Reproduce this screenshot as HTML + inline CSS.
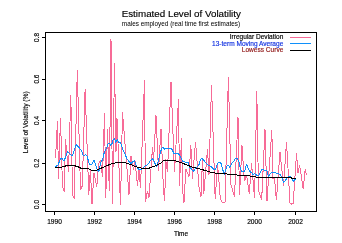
<!DOCTYPE html>
<html><head><meta charset="utf-8">
<style>
html,body{margin:0;padding:0;background:#fff;width:342px;height:243px;overflow:hidden}
svg{display:block;will-change:transform}
text{font-family:"Liberation Sans",sans-serif;fill:#000}
</style></head><body>
<svg width="342" height="243" viewBox="0 0 342 243">
<rect x="0" y="0" width="342" height="243" fill="#fff"/>
<text x="181.3" y="16.8" font-size="9.8" text-anchor="middle" stroke="#000" stroke-width="0.15">Estimated Level of Volatility</text>
<text x="181" y="25.5" font-size="6.4" text-anchor="middle">males employed (real time first estimates)</text>
<g fill="none" shape-rendering="crispEdges">
<path d="M55.5 158.5 57.5 121.0 58.5 178.5 60.5 118.0 62.5 186.6 64.2 192.0 65.5 139.0 68.5 172.0 70.8 95.4 72.5 195.0 74.2 198.8 77.3 70.0 80.5 189.6 82.3 186.0 85.1 89.2 88.8 194.5 90.4 169.5 92.0 203.8 94.0 173.0 96.8 186.5 98.5 164.0 100.5 160.6 102.5 177.0 104.5 113.0 105.8 197.6 107.5 129.5 109.3 190.8 111.0 39.1 112.5 203.8 114.5 63.0 116.0 151.6 117.0 118.5 120.5 205.0 122.5 112.2 129.0 194.5 131.0 156.5 133.5 170.0 135.0 160.8 137.5 185.9 139.0 168.8 140.5 187.7 144.5 80.3 145.5 201.5 147.5 191.0 149.0 197.5 152.5 147.2 153.5 162.0 156.0 115.4 158.5 170.7 161.0 129.0 163.5 191.0 164.8 200.7 165.5 158.8 167.5 172.0 171.0 82.1 174.5 172.4 178.5 98.9 179.5 185.7 181.5 138.4 182.6 190.0 184.0 202.5 185.8 169.0 189.0 176.8 190.8 145.4 192.5 178.6 195.5 141.9 199.2 189.0 201.0 196.5 202.5 158.0 203.8 193.5 207.5 149.5 209.0 175.0 211.5 84.7 215.2 199.0 217.6 165.0 220.2 197.0 221.6 202.0 225.0 202.5 228.4 76.8 231.0 185.0 234.5 196.5 238.0 117.0 239.5 195.4 242.0 145.4 244.4 181.3 246.5 175.0 249.3 193.7 251.5 163.0 254.6 198.2 256.8 90.9 258.5 191.0 261.7 199.4 265.0 129.5 267.0 201.1 271.8 130.4 273.0 179.0 274.5 178.0 276.4 200.0 280.0 151.8 283.5 186.0 286.5 142.2 290.0 203.0 291.5 204.0 293.2 203.5 296.5 153.3 298.0 172.6 299.6 165.0 303.2 189.0 305.2 169.6 306.6 175.0" stroke="#f76b97" stroke-width="1"/>
<path d="M55.0 167.0 56.6 166.0 58.0 164.8 58.8 163.0 59.7 160.8 60.6 159.0 61.9 158.2 63.2 160.0 64.1 160.8 65.0 158.6 65.8 156.9 67.3 151.6 68.8 152.8 70.7 154.6 71.9 155.9 73.1 154.0 74.4 150.3 76.2 144.5 77.5 146.0 79.9 148.5 81.8 151.6 83.0 155.0 84.0 155.7 85.5 154.3 86.5 155.2 87.5 157.0 88.0 159.5 88.8 162.1 89.7 164.3 91.0 165.2 92.3 163.9 93.2 161.3 94.1 160.0 95.0 162.6 95.8 165.6 96.7 168.3 98.0 170.5 98.9 171.8 99.4 168.3 100.2 164.8 101.1 161.3 102.4 160.4 103.3 156.9 103.7 154.3 105.2 150.8 106.7 147.8 108.2 143.9 109.5 143.4 110.7 145.4 112.1 143.4 113.2 139.5 114.5 138.8 115.7 141.9 117.6 140.1 118.8 142.5 120.4 142.5 121.6 145.0 122.3 148.0 123.5 151.1 125.3 155.0 127.0 158.7 129.4 162.2 131.1 163.4 132.9 161.6 134.6 161.0 136.4 165.7 137.2 167.4 139.0 169.5 140.3 169.1 142.1 169.1 143.0 168.7 144.0 167.1 145.3 165.8 147.5 164.9 148.8 163.2 150.6 160.1 152.3 158.8 153.6 160.1 155.0 163.6 156.3 166.2 157.2 165.4 158.5 160.5 159.8 155.3 160.9 150.8 161.8 148.1 163.1 147.3 164.4 149.0 165.7 148.1 167.0 149.0 168.3 148.1 170.1 148.6 171.4 148.1 172.7 150.8 174.0 153.4 177.5 153.4 178.9 154.3 180.2 156.0 181.5 158.7 182.8 161.3 185.4 162.2 188.2 162.5 189.5 167.4 190.8 168.2 192.1 170.4 193.5 171.3 194.8 169.5 196.1 167.8 197.4 166.5 198.7 165.6 199.6 162.5 200.9 159.0 202.2 158.6 203.5 159.9 204.9 161.6 206.6 163.4 208.4 165.2 210.6 166.5 212.3 167.4 213.8 169.6 215.5 169.2 216.8 165.6 218.1 162.6 219.9 162.1 221.2 163.9 222.1 167.0 223.0 170.5 224.3 174.4 225.6 170.0 226.9 166.1 228.2 165.2 229.5 167.0 230.9 165.6 232.2 163.0 233.9 161.3 235.7 158.2 237.4 158.6 238.8 161.3 239.6 165.6 240.9 170.0 242.0 171.8 244.6 171.4 245.5 168.8 246.4 164.4 247.3 165.7 248.1 167.9 249.0 170.1 250.3 171.8 251.6 172.7 253.0 174.5 254.3 173.6 256.0 174.5 257.4 175.8 258.7 175.8 260.0 173.2 261.3 170.1 263.1 169.2 264.8 170.5 267.0 171.0 267.9 174.5 268.8 176.2 270.1 173.6 271.8 172.8 273.5 172.3 275.3 172.8 277.0 173.2 278.8 173.6 280.5 175.0 281.8 177.2 282.7 180.2 283.6 182.0 284.9 181.1 286.2 179.4 287.5 177.6 288.9 176.3 290.6 176.3 291.5 178.5 292.8 180.2 293.7 181.1 294.6 179.8 296.3 178.9" stroke="#1090fa" stroke-width="1"/>
<path d="M55.0 167.5 61.9 167.5 62.3 166.5 65.4 166.5 65.8 165.5 75.0 165.5 75.5 166.5 78.1 166.5 78.6 167.5 80.3 167.5 80.8 168.5 84.0 168.5 89.0 169.0 91.0 170.0 97.0 170.0 99.0 169.0 102.0 167.8 106.0 166.0 109.0 164.8 112.0 163.4 115.3 163.0 116.0 162.5 125.4 162.5 127.0 163.4 130.0 164.3 133.0 165.6 136.8 166.9 139.4 167.8 144.0 168.5 148.4 168.4 151.9 167.1 155.4 165.8 158.9 164.0 162.0 162.3 163.0 160.8 175.0 160.6 178.3 161.6 183.5 163.6 189.5 166.0 193.0 167.4 196.5 168.2 200.0 169.1 203.5 170.0 207.0 170.9 210.6 172.2 214.0 172.7 216.6 173.5 222.0 173.5 228.5 174.2 234.0 174.8 242.0 175.4 249.2 175.8 253.6 176.6 259.3 177.5 263.0 178.0 267.6 177.6 272.0 177.1 277.2 177.4 280.0 178.0 282.0 177.6 289.3 177.2 291.5 178.0 296.3 178.0" stroke="#000" stroke-width="1"/>
</g>
<g stroke="#000" stroke-width="1" fill="none" shape-rendering="crispEdges">
<rect x="45.5" y="32.5" width="271" height="179"/>
<path d="M42 204.5H45.5M42 163.5H45.5M42 120.5H45.5M42 79.5H45.5M42 37.5H45.5"/>
<path d="M54.5 211.5V215M94.5 211.5V215M134.5 211.5V215M174.5 211.5V215M214.5 211.5V215M254.5 211.5V215M295.5 211.5V215"/>
</g>
<g font-size="6.4" text-anchor="middle" stroke="#000" stroke-width="0.15">
<text x="54.5" y="223.8" font-size="6.6">1990</text>
<text x="94.5" y="223.8" font-size="6.6">1992</text>
<text x="134.5" y="223.8" font-size="6.6">1994</text>
<text x="174.5" y="223.8" font-size="6.6">1996</text>
<text x="214.5" y="223.8" font-size="6.6">1998</text>
<text x="254.5" y="223.8" font-size="6.6">2000</text>
<text x="295.5" y="223.8" font-size="6.6">2002</text>
<text x="181" y="236">Time</text>
<text transform="translate(39.1,204.5) rotate(-90)">0.0</text>
<text transform="translate(39.1,163.1) rotate(-90)">0.2</text>
<text transform="translate(39.1,120.5) rotate(-90)">0.4</text>
<text transform="translate(39.1,79.1) rotate(-90)">0.6</text>
<text transform="translate(39.1,37.5) rotate(-90)">0.8</text>
<text transform="translate(28,122.3) rotate(-90)" font-size="6.7">Level of Volatility (%)</text>
</g>
<g font-size="6.55" text-anchor="end" stroke-width="0.15">
<text x="283.3" y="39.4" stroke="#000">Irregular Deviation</text>
<text x="283.3" y="46.1" style="fill:#1030e0" stroke="#1030e0">13-term Moving Average</text>
<text x="283.3" y="52.1" style="fill:#8f1515" stroke="#8f1515">Lowess Curve</text>
</g>
<g fill="none" stroke-width="1" shape-rendering="crispEdges">
<path d="M290 37.5H311" stroke="#f76b97"/>
<path d="M290 43.5H311" stroke="#1090fa"/>
<path d="M290 50.5H311" stroke="#000"/>
</g>
</svg>
</body></html>
